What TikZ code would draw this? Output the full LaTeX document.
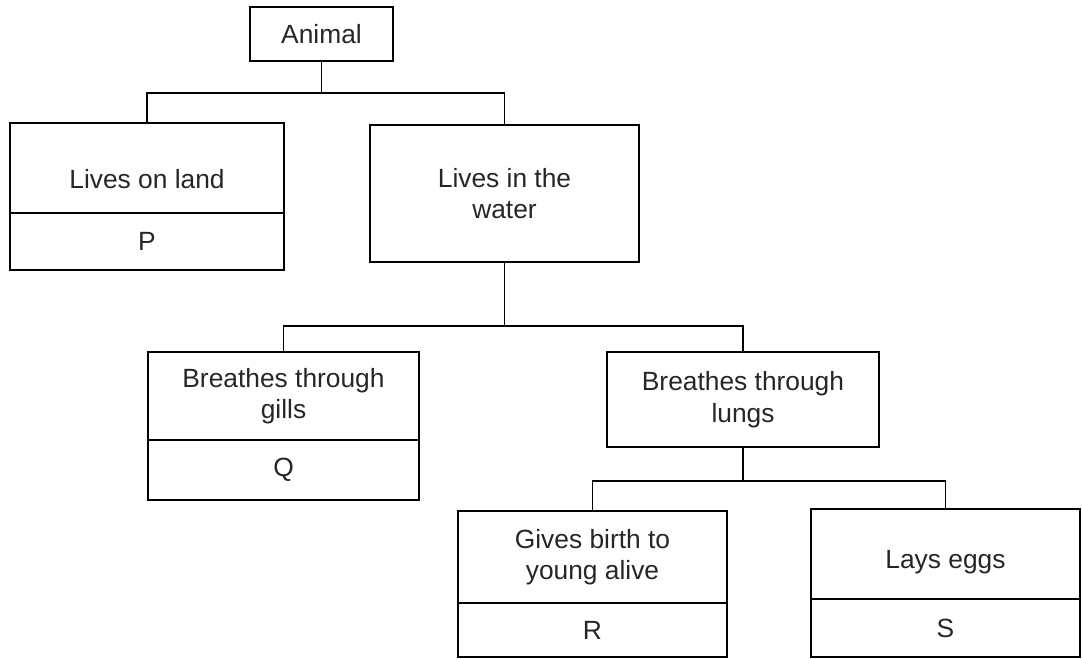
\documentclass[tikz,border=0pt]{standalone}
\usepackage{fontspec}
\setmainfont{Liberation Sans}
\begin{document}
\begin{tikzpicture}[x=0.02cm, y=-0.02cm, line width=1pt,
    box/.style={draw, rectangle, inner sep=2pt, align=center, text=black!85,
        font=\fontsize{15}{18}\selectfont},
    wide/.style={box, minimum width=5.4cm},
    sunk/.style={text height=#1, text depth=0pt}]
    \useasboundingbox (0,0) rectangle (1082,659);

    \node[box, minimum width=2.86cm, minimum height=1.08cm] (animal) at (321.5,34) {Animal};

    \node[wide, sunk=23pt, minimum width=5.48cm, minimum height=1.8cm] (land) at (147,168) {Lives on land};
    \node[wide, minimum width=5.48cm, minimum height=1.14cm] (landP) at (147,241.5) {P};
    \node[wide, minimum width=5.38cm, minimum height=2.74cm] (water) at (504.5,193.5) {Lives in the\\water};

    \node[wide, minimum width=5.42cm, minimum height=1.76cm] (gills) at (283.5,396) {Breathes through\\gills};
    \node[wide, minimum width=5.42cm, minimum height=1.2cm] (gillsQ) at (283.5,470) {Q};
    \node[wide, minimum width=5.44cm, minimum height=1.9cm] (lungs) at (743,399.5) {Breathes through\\lungs};

    \node[wide, minimum width=5.38cm, minimum height=1.84cm] (birth) at (592.5,557) {Gives birth to\\young alive};
    \node[wide, minimum width=5.38cm, minimum height=1.08cm] (birthR) at (592.5,630) {R};
    \node[wide, sunk=17pt, minimum width=5.38cm, minimum height=1.8cm] (eggs) at (945.5,554) {Lays eggs};
    \node[wide, minimum width=5.38cm, minimum height=1.16cm] (eggsS) at (945.5,628) {S};

    \draw (animal.south) -- ++(0,31) coordinate (bus1) -| (land.north);
    \draw (bus1) -| (water.north);
    \draw (water.south) -- ++(0,63) coordinate (bus2) -| (gills.north);
    \draw (bus2) -| (lungs.north);
    \draw (lungs.south) -- ++(0,33) coordinate (bus3) -| (birth.north);
    \draw (bus3) -| (eggs.north);
\end{tikzpicture}
\end{document}
